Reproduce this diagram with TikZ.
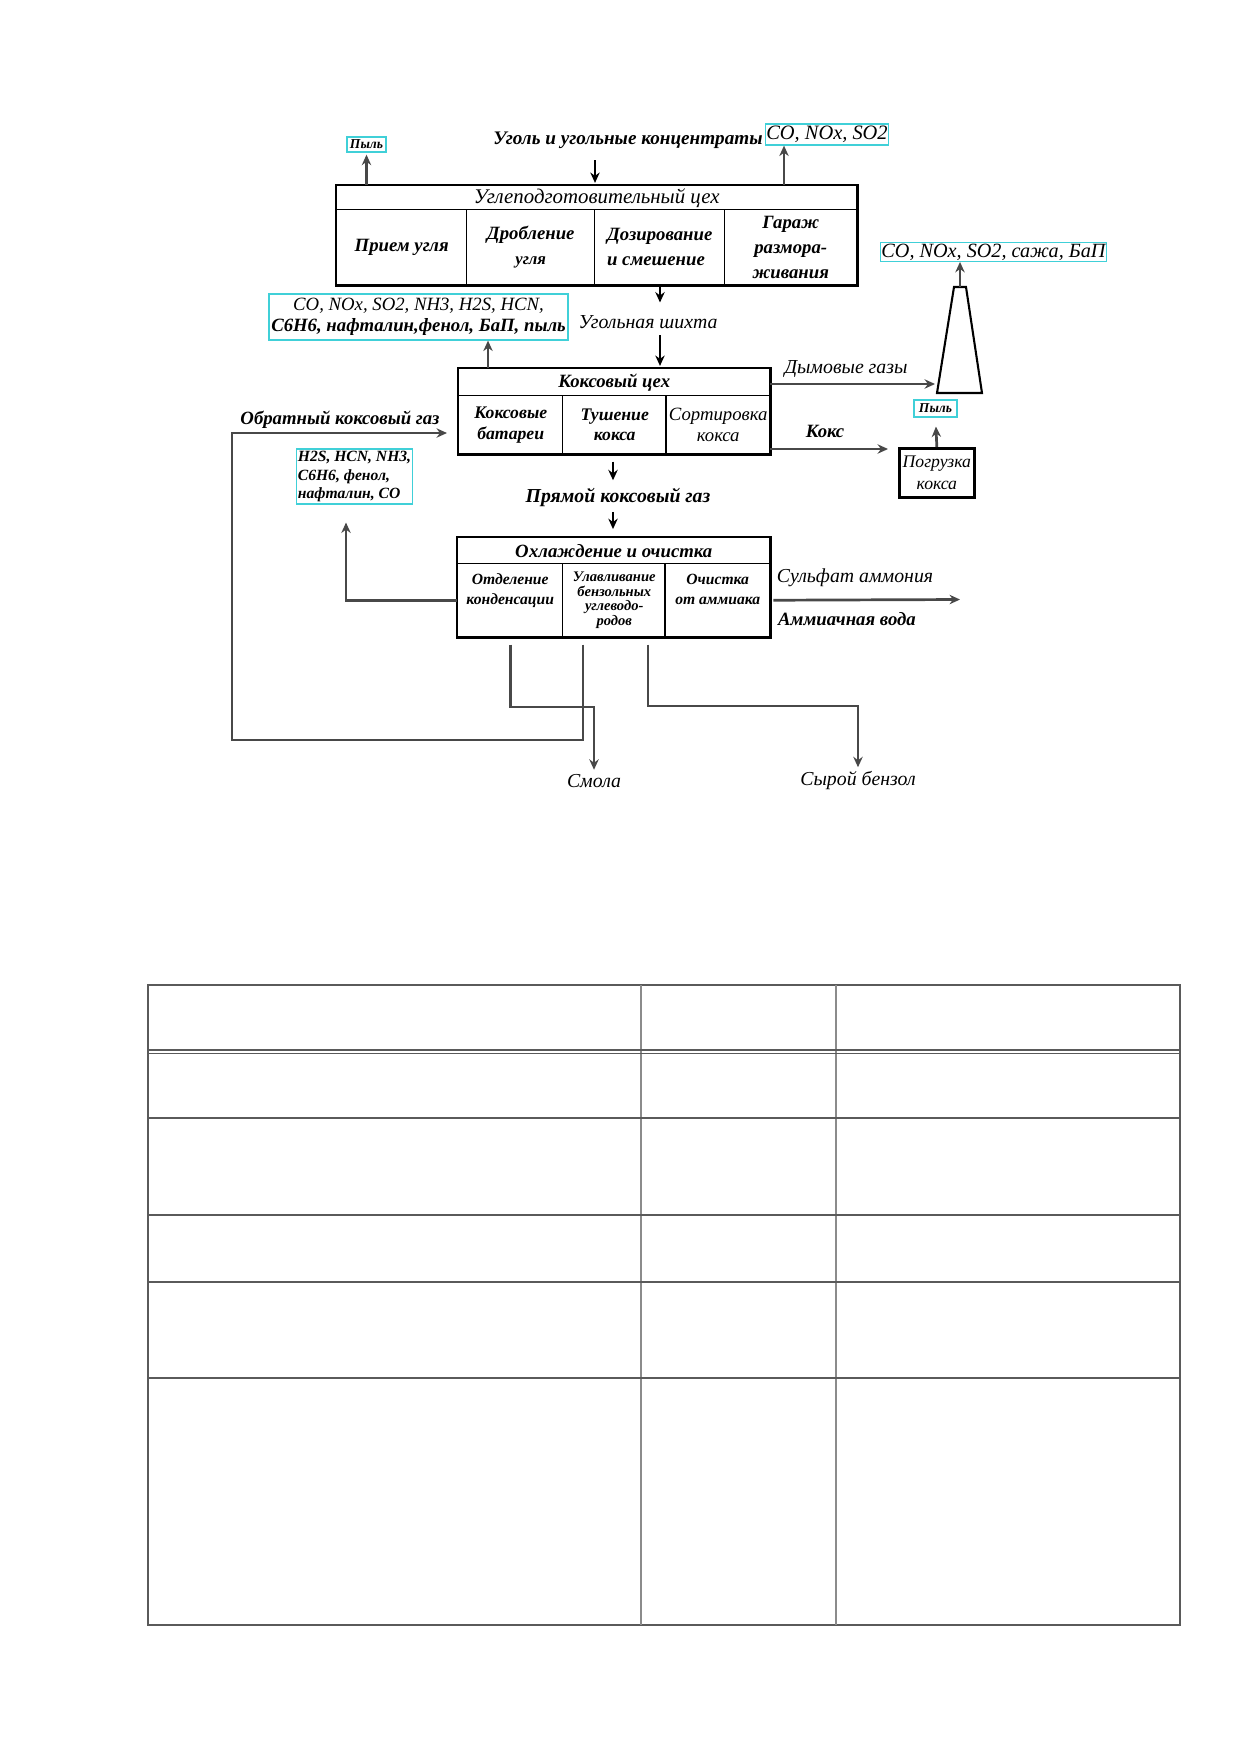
\documentclass[tikz,border=0pt]{standalone}
\usepackage{fontspec}
\setmainfont{Liberation Serif}
\usetikzlibrary{arrows.meta,calc}
\definecolor{cyanb}{RGB}{64,208,216}
\definecolor{agray}{RGB}{72,72,72}
\definecolor{tgray}{RGB}{90,90,90}
\newcommand\fntTitle{\fontsize{10}{12}\selectfont\itshape}
\newcommand\fntBI[2]{\fontsize{#1}{#2}\selectfont\bfseries\itshape}
\newcommand\fntI[2]{\fontsize{#1}{#2}\selectfont\itshape}
\begin{document}
\begin{tikzpicture}[x=0.48pt,y=-0.48pt,
 wh/.style 2 args={minimum width=#1*0.48pt,minimum height=#2*0.48pt},
 cell/.style={draw=black,line width=0.7pt,inner sep=1pt,align=center,anchor=north west},
 outer/.style={draw=black,line width=1.3pt},
 emis/.style={draw=cyanb,line width=0.6pt,inner sep=0.5pt,align=center},
 lbl/.style={inner sep=1pt,align=center},
 arr/.style={draw=agray,line width=1.3pt,-{Stealth[length=5pt,width=4.5pt]}},
 darr/.style={arr,draw=black},
 tbl/.style={draw=tgray,line width=0.8pt},
 tblv/.style={draw=tgray!70,line width=0.5pt}]
\fill[white] (0,0) rectangle (1240,1754);
\useasboundingbox (0,0) rectangle (1240,1754);

% ---------- top block
\node[cell,wh={520}{24},font=\fntTitle] (T0) at (336,185) {Углеподготовительный цех};
\node[cell,wh={130}{75},font={\fntBI{9}{12}}] (T1) at (336,209) {Прием угля};
\node[cell,wh={128}{75},font={\fntBI{9}{12}}] (T2) at (466,209) {Дробление\\{\fntI{8}{12}угля}};
\node[cell,wh={130}{75},font={\fntBI{9}{12}},align=left] (T3) at (594,209) {Дозирование\\и смешение};
\node[cell,wh={132}{75},font={\fntBI{9}{12}}] (T4) at (724,209) {Гараж\\размора-\\живания};
\draw[outer] (T0.north west) rectangle (T4.south east);

% ---------- coke block
\node[cell,wh={311}{27},font={\fntBI{9}{11}}] (K0) at (458,368) {Коксовый цех};
\node[cell,wh={104}{58},font={\fntBI{8.5}{10}}] (K1) at (458,395) {Коксовые\\батареи};
\node[cell,wh={104}{58},font={\fntBI{8.5}{10}}] (K2) at (562,395) {Тушение\\кокса};
\node[cell,wh={103}{58},font={\fntI{9}{10}}] (K3) at (666,395) {Сортировка\\кокса};
\draw[outer] (K0.north west) rectangle (K3.south east);
\draw[outer] (K3.north west) -- (K3.south west);

% ---------- cleaning block
\node[cell,wh={312}{26},font={\fntBI{9}{11}}] (O0) at (457,537) {Охлаждение и очистка};
\node[cell,wh={105}{73},font={\fntBI{7.5}{9.6}}] (O1) at (457,563) {Отделение\\конденсации\\[1pt]};
\node[cell,wh={103}{73},font={\fntBI{7}{7}}] (O2) at (562,563) {Улавливание\\бензольных\\углеводо-\\родов};
\node[cell,wh={104}{73},font={\fntBI{7.5}{9.6}}] (O3) at (665,563) {Очистка\\от аммиака\\[1pt]};
\draw[outer] (O0.north west) rectangle (O3.south east);
\draw[outer] (O3.north west) -- (O3.south west);

% ---------- loading box and chimney
\node[draw=black,line width=1.3pt,wh={75}{49},anchor=north west,inner sep=1pt,align=center,font={\fntI{8.5}{10.6}}] (pog) at (898,447) {Погрузка\\кокса};
\draw[line width=1pt] (954,287) -- (966,287) -- (982,393) -- (937,393) -- cycle;
\coordinate (chimTop) at (960,287);
\coordinate (chimIn) at (935,384);

% ---------- emission boxes
\node[emis,wh={39}{15},font={\fntBI{6.5}{7}}] (dust1) at (366.5,144.5) {Пыль};
\node[emis,wh={122}{21},font={\fntI{9.8}{11}}] (co1) at (827,134.5) {CO, NOx, SO2};
\node[emis,wh={299}{46},font={\fntI{9}{10.3}}] (em1) at (418.5,317) {CO, NOx, SO2, NH3, H2S, HCN,\\{\bfseries C6H6, нафталин,фенол, БаП, пыль}};
\node[emis,wh={221}{18},font={\fntI{9.7}{11}}] (co2) at (993.5,252) {CO, NOx, SO2, сажа, БаП};
\node[emis,wh={43}{17},font={\fntBI{6.5}{7}}] (dust2) at (935.5,408.5) {Пыль};
\node[emis,wh={115}{55},font={\fntBI{7.5}{9}},align=left] (h2s) at (354.5,476.5) {H2S, HCN, NH3,\\C6H6, фенол,\\нафталин, CO};

% ---------- labels
\node[lbl,font={\fntBI{9.2}{11}}] (coal) at (628,140) {Уголь и угольные концентраты};
\node[lbl,font={\fntI{9.5}{11}}] (shikhta) at (648,322) {Угольная шихта};
\node[lbl,font={\fntI{9.5}{11}}] (smoke) at (846,369) {Дымовые газы};
\node[lbl,font={\fntBI{9}{11}}] (coke) at (825,431) {Кокс};
\node[lbl,font={\fntBI{9}{11}}] (retgas) at (340,420) {Обратный коксовый газ};
\node[lbl,font={\fntBI{9.5}{11}}] (pry) at (618,497) {Прямой коксовый газ};
\node[lbl,font={\fntI{9.5}{11}}] (sulf) at (855,578) {Сульфат аммония};
\node[lbl,font={\fntBI{9}{11}}] (ammw) at (847,619) {Аммиачная вода};
\node[lbl,font={\fntI{9.5}{11}}] (smola) at (594,781) {Смола};
\node[lbl,font={\fntI{9.5}{11}}] (benz) at (858,781) {Сырой бензол};

% ---------- coordinates for arrows
\coordinate (xA) at (595,160);
\coordinate (xB) at (784,0);
\coordinate (xC) at (660,0);
\coordinate (xE) at (488,0);
\coordinate (xK) at (613,0);
\coordinate (hx) at (346,0);
\coordinate (r1) at (583,740);
\coordinate (r2) at (232,740);
\coordinate (r3) at (232,433);
\coordinate (s1) at (509,707);
\coordinate (b1) at (648,706);
\coordinate (cokeEnd) at (888,449);
\coordinate (sulfEnd) at (960,599.5);

% ---------- arrows
\draw[arr,shorten >=1pt] (dust1.south |- T0.north) -- (dust1.south);
\draw[darr,shorten >=1pt] (xA) -- (xA |- T0.north);
\draw[arr] (xB |- T0.north) -- (xB |- co1.south);
\draw[darr,shorten >=5pt] (xC |- T1.south) -- (xC |- shikhta.north);
\draw[darr,shorten <=2pt,shorten >=1pt] (xC |- shikhta.south) -- (xC |- K0.north);
\draw[arr] (xE |- K0.north) -- (xE |- em1.south);
\draw[arr] (chimIn -| K3.east) -- (chimIn);
\draw[arr] (cokeEnd -| K3.east) -- (cokeEnd);
\draw[arr] (chimTop) -- (chimTop |- co2.south);
\draw[arr,shorten >=4.3pt] (pog.north) -- (dust2.south);
\draw[darr,shorten <=3.4pt,shorten >=2.4pt] (xK |- K1.south) -- (xK |- pry.north);
\draw[darr,shorten <=1.5pt,shorten >=3.8pt] (xK |- pry.south) -- (xK |- O0.north);
\draw[arr,shorten <=3.4pt,shorten >=5.3pt] (O2.south -| r1) -- (r1) -- (r2) -- (r3) -- (r3 -| K1.west);
\draw[arr,shorten >=8.6pt] (O1.west) -- (O1.west -| hx) -- (hx |- h2s.south);
\draw[arr,shorten <=1.4pt] (O3.east) -- (sulfEnd);
\draw[arr,shorten <=3.4pt,shorten >=1pt] (O1.south) -- (O1.south |- s1) -- (s1 -| smola) -- (smola.north);
\draw[arr,shorten <=3.4pt,shorten >=1pt] (O2.south -| b1) -- (b1) -- (b1 -| benz) -- (benz.north);

% ---------- empty table
\draw[tbl] (148,985) rectangle (1180,1625);
\draw[tblv] (641,985) -- (641,1625);
\draw[tblv] (836,985) -- (836,1625);
\foreach \yy in {1050,1053.5,1118,1215,1282,1378}
  \draw[tbl] (148,\yy) -- (1180,\yy);
\end{tikzpicture}
\end{document}
